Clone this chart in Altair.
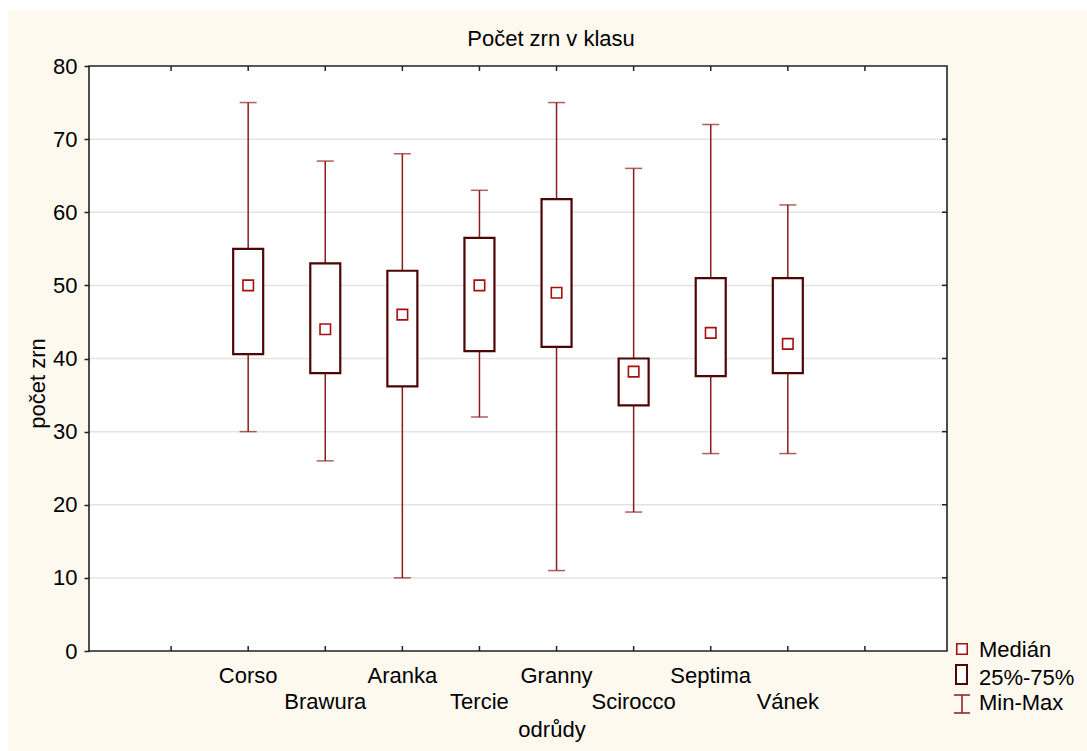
import altair as alt
import pandas as pd

# ---- data ----
odrudy = ["Corso", "Brawura", "Aranka", "Tercie", "Granny", "Scirocco", "Septima", "Vánek"]
pozice = [2, 3, 4, 5, 6, 7, 8, 9]
radek = [0, 1, 0, 1, 0, 1, 0, 1]
minimum = [30, 26, 10, 32, 11, 19, 27, 27]
q25 = [40.6, 38, 36.2, 41, 41.6, 33.6, 37.6, 38]
median = [50, 44, 46, 50, 49, 38.2, 43.5, 42]
q75 = [55, 53, 52, 56.5, 61.8, 40, 51, 51]
maximum = [75, 67, 68, 63, 75, 66, 72, 61]

x_ticks = [1, 2, 3, 4, 5, 6, 7, 8, 9, 10]
y_ticks = [0, 10, 20, 30, 40, 50, 60, 70, 80]
y_inner = [10, 20, 30, 40, 50, 60, 70]

chart_title = "Počet zrn v klasu"
x_title = "odrůdy"
y_title = "počet zrn"
legend_labels = ["Medián", "25%-75%", "Min-Max"]

W, H = 858, 585
FONT = "Liberation Sans"
FS = 22
CREAM = "#fdf9ef"
WHISK = "#8e1b1b"
BOXC = "#4d0505"
MEDC = "#a50f0f"
GRID = "#e3e3e3"
BORDER = "#222222"

df = pd.DataFrame({
    "odruda": odrudy, "pos": pozice, "row": radek,
    "min": minimum, "q1": q25, "med": median, "q3": q75, "max": maximum,
})
xt = pd.DataFrame({"pos": x_ticks})
yi = pd.DataFrame({"v": y_inner})

xs = alt.Scale(domain=[0, 11], nice=False, zero=False)
ys = alt.Scale(domain=[0, 80], nice=False)
y_axis = alt.Axis(values=y_ticks, labelFontSize=FS, labelFont=FONT, labelColor="black",
                  tickSize=5, tickColor=BORDER, tickWidth=1.5, labelPadding=7,
                  domain=False, grid=False, zindex=2,
                  title=y_title, titleFont=FONT, titleFontSize=FS, titleFontWeight="normal",
                  titleColor="black", titleAngle=270, titleAlign="center",
                  titleBaseline="alphabetic", titleX=-45, titleY=317)

one = alt.Data(values=[{"k": 0}])

def X(f="pos"):
    return alt.X(f"{f}:Q", scale=xs, axis=None)

def Y(f):
    return alt.Y(f"{f}:Q", scale=ys, axis=y_axis)

layers = []

# backgrounds
layers.append(alt.Chart(one).mark_rect(fill=CREAM).encode(
    x=alt.value(-81), x2=alt.value(W + 140), y=alt.value(-56), y2=alt.value(H + 100)))
layers.append(alt.Chart(one).mark_rect(fill="white").encode(
    x=alt.value(0), x2=alt.value(W), y=alt.value(0), y2=alt.value(H)))

# grid lines
layers.append(alt.Chart(yi).mark_rule(color=GRID, strokeWidth=1.5).encode(
    y=Y("v"), x=alt.value(0), x2=alt.value(W)))

# whiskers
layers.append(alt.Chart(df).mark_rule(color=WHISK, strokeWidth=1.5).encode(
    x=X(), y=Y("min"), y2="max:Q"))
layers.append(alt.Chart(df).mark_tick(color=WHISK, orient="horizontal", size=17, thickness=1.5).encode(
    x=X(), y=Y("min")))
layers.append(alt.Chart(df).mark_tick(color=WHISK, orient="horizontal", size=17, thickness=1.5).encode(
    x=X(), y=Y("max")))

# boxes
layers.append(alt.Chart(df).mark_bar(size=30, fill="white", stroke=BOXC, strokeWidth=2.2).encode(
    x=X(), y=Y("q1"), y2="q3:Q"))

# medians
layers.append(alt.Chart(df).mark_square(size=110, fill="white", stroke=MEDC, strokeWidth=1.6, opacity=1).encode(
    x=X(), y=Y("med")))

# border
layers.append(alt.Chart(one).mark_rect(fill="transparent", stroke=BORDER, strokeWidth=1.6).encode(
    x=alt.value(0), x2=alt.value(W), y=alt.value(0), y2=alt.value(H)))

# inner ticks top / bottom / right
layers.append(alt.Chart(xt).mark_rule(color=BORDER, strokeWidth=1.5).encode(
    x=X(), y=alt.value(0), y2=alt.value(5)))
layers.append(alt.Chart(xt).mark_rule(color=BORDER, strokeWidth=1.5).encode(
    x=X(), y=alt.value(H), y2=alt.value(H - 5)))
layers.append(alt.Chart(yi).mark_rule(color=BORDER, strokeWidth=1.5).encode(
    y=Y("v"), x=alt.value(W), x2=alt.value(W - 5)))

# category labels (two staggered rows)
for r, yy in [(0, H + 32), (1, H + 58)]:
    layers.append(alt.Chart(df).transform_filter(alt.datum.row == r).mark_text(
        font=FONT, fontSize=FS, color="black", align="center", baseline="alphabetic").encode(
        x=X(), y=alt.value(yy), text="odruda:N"))

# titles
layers.append(alt.Chart(alt.Data(values=[{"t": chart_title}])).mark_text(
    font=FONT, fontSize=FS, color="black", align="center", baseline="alphabetic").encode(
    x=alt.value(462), y=alt.value(-20), text="t:N"))
layers.append(alt.Chart(alt.Data(values=[{"t": x_title}])).mark_text(
    font=FONT, fontSize=FS, color="black", align="center", baseline="alphabetic").encode(
    x=alt.value(463), y=alt.value(H + 86), text="t:N"))

# legend
LX = W + 15
layers.append(alt.Chart(one).mark_square(size=110, fill="white", stroke=MEDC, strokeWidth=1.6, opacity=1).encode(
    x=alt.value(LX), y=alt.value(H - 2)))
layers.append(alt.Chart(one).mark_rect(fill="white", stroke=BOXC, strokeWidth=2).encode(
    x=alt.value(LX - 6), x2=alt.value(LX + 5), y=alt.value(H + 14), y2=alt.value(H + 33)))
layers.append(alt.Chart(one).mark_rule(color=WHISK, strokeWidth=1.5).encode(
    x=alt.value(LX), y=alt.value(H + 44), y2=alt.value(H + 62)))
layers.append(alt.Chart(one).mark_rule(color=WHISK, strokeWidth=1.5).encode(
    x=alt.value(LX - 8), x2=alt.value(LX + 8), y=alt.value(H + 44)))
layers.append(alt.Chart(one).mark_rule(color=WHISK, strokeWidth=1.5).encode(
    x=alt.value(LX - 8), x2=alt.value(LX + 8), y=alt.value(H + 62)))
for lab, yy in zip(legend_labels, [H + 6, H + 34, H + 59]):
    layers.append(alt.Chart(alt.Data(values=[{"t": lab}])).mark_text(
        font=FONT, fontSize=FS, color="black", align="left", baseline="alphabetic").encode(
        x=alt.value(W + 32), y=alt.value(yy), text="t:N"))

chart = alt.layer(*layers).properties(
    width=W, height=H,
    autosize=alt.AutoSizeParams(type="none"),
    padding={"left": 89, "top": 66, "right": 140, "bottom": 100},
    background="white",
).configure_view(stroke="transparent", strokeWidth=0)

chart.save("out.html", embed_options={"renderer": "svg", "actions": False})
